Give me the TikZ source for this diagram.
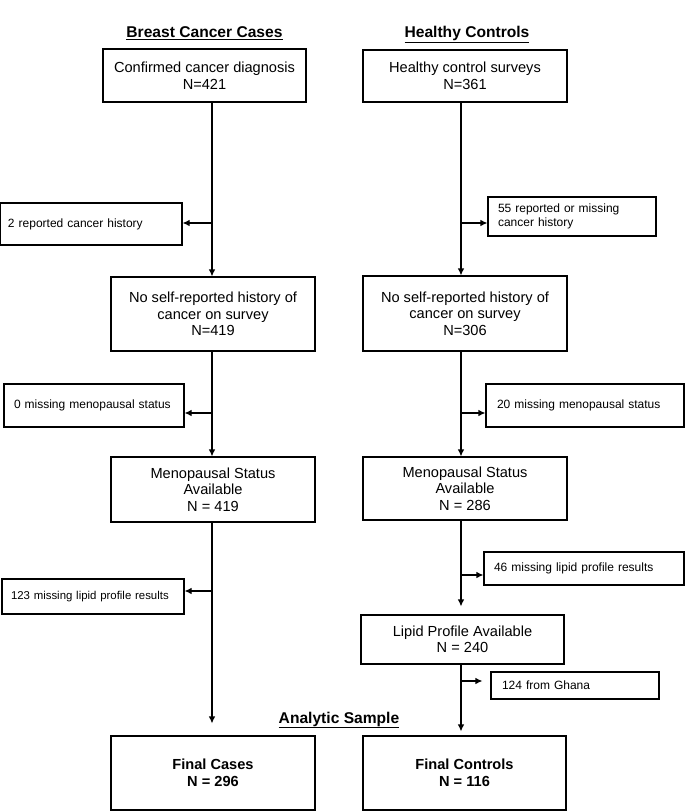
\documentclass[tikz,border=0pt]{standalone}
\usepackage{fontspec}
\setmainfont{Liberation Sans}
\usetikzlibrary{arrows.meta}
\begin{document}
\begin{tikzpicture}[x=1pt,y=-1pt,
  box/.style={draw=black,line width=1.1pt,inner sep=0pt,align=center,
    font=\fontsize{14.6}{16.5}\selectfont},
  exbox/.style={draw=black,line width=1.1pt,inner sep=0pt,align=left,
    font=\fontsize{12}{14}\selectfont},
  title/.style={font=\fontsize{15.6}{18}\selectfont\bfseries,anchor=base},
  arr/.style={line width=1.1pt,-{Latex[length=7pt,width=6.5pt]}},
]
\useasboundingbox (0,0) rectangle (685,811);

% titles
\node[title] (tL) at (204.5,37.5) {\underline{Breast Cancer Cases}};
\node[title] (tR) at (467,37.5) {\underline{Healthy Controls}};
\node[title] (tA) at (339,723) {\underline{Analytic Sample}};

% main boxes
\node[box,minimum width=203pt,minimum height=53pt] (b1L) at (204.5,75.5) {Confirmed cancer diagnosis\\N=421};
\node[box,minimum width=204pt,minimum height=52pt] (b1R) at (465,76) {Healthy control surveys\\N=361};
\node[box,minimum width=204pt,minimum height=74pt] (b2L) at (213,314) {No self-reported history of\\cancer on survey\\N=419};
\node[box,minimum width=204pt,minimum height=75pt] (b2R) at (465,313.5) {No self-reported history of\\cancer on survey\\N=306};
\node[box,minimum width=204pt,minimum height=65pt] (b3L) at (213,489.5) {Menopausal Status\\Available\\N = 419};
\node[box,minimum width=204pt,minimum height=63pt] (b3R) at (465,488.5) {Menopausal Status\\Available\\N = 286};
\node[box,minimum width=203pt,minimum height=49pt] (lipR) at (462.5,639.5) {Lipid Profile Available\\N = 240};
\node[box,minimum width=204pt,minimum height=74pt,font=\fontsize{14.6}{17}\selectfont\bfseries] (fL) at (213,773) {Final Cases\\N = 296};
\node[box,minimum width=203pt,minimum height=74pt,font=\fontsize{14.6}{17}\selectfont\bfseries] (fR) at (464.5,773) {Final Controls\\N = 116};

% exclusion boxes
\node[exbox,minimum width=182pt,minimum height=42pt,text width=166pt,inner xsep=8pt] (e1L) at (91,224) {2 reported cancer history};
\node[exbox,minimum width=168pt,minimum height=39pt,text width=148pt,inner xsep=10pt] (e1R) at (572,216.5) {55 reported or missing\\cancer history};
\node[exbox,minimum width=180pt,minimum height=43pt,text width=160pt,inner xsep=10pt] (e2L) at (94,405.5) {0 missing menopausal status};
\node[exbox,minimum width=198pt,minimum height=43pt,text width=176pt,inner xsep=11pt] (e2R) at (585,405.5) {20 missing menopausal status};
\node[exbox,minimum width=200pt,minimum height=33pt,text width=180pt,inner xsep=10pt] (e3R) at (584,568.5) {46 missing lipid profile results};
\node[exbox,minimum width=182pt,minimum height=35pt,text width=164pt,inner xsep=9pt,font=\fontsize{11.4}{14}\selectfont] (e3L) at (93,596.5) {\mbox{123 missing lipid profile results}};
\node[exbox,minimum width=168pt,minimum height=27pt,text width=146pt,inner xsep=11pt] (e4R) at (575,685.5) {124 from Ghana};

% column coordinates
\coordinate (cL) at (212,0);
\coordinate (cR) at (461,0);

% main flow
\draw[arr] (b1L.south -| cL) -- (b2L.north -| cL);
\draw[arr] (b1R.south -| cR) -- (b2R.north -| cR);
\draw[arr] (b2L.south -| cL) -- (b3L.north -| cL);
\draw[arr] (b2R.south -| cR) -- (b3R.north -| cR);
\draw[arr,shorten >=12pt] (b3L.south -| cL) -- (fL.north -| cL);
\draw[arr,shorten >=8pt] (b3R.south -| cR) -- (lipR.north -| cR);
\draw[arr,shorten >=4pt] (lipR.south -| cR) -- (fR.north -| cR);

% branches
\coordinate (k1L) at (212,223);
\coordinate (k1R) at (461,223);
\coordinate (k2L) at (212,413);
\coordinate (k2R) at (461,413);
\coordinate (k3L) at (212,591);
\coordinate (k3R) at (461,575);
\coordinate (k4R) at (461,681);
\draw[arr] (k1L) -- (k1L -| e1L.east);
\draw[arr] (k1R) -- (k1R -| e1R.west);
\draw[arr] (k2L) -- (k2L -| e2L.east);
\draw[arr] (k2R) -- (k2R -| e2R.west);
\draw[arr] (k3L) -- (k3L -| e3L.east);
\draw[arr] (k3R) -- (k3R -| e3R.west);
\draw[arr,shorten >=8pt] (k4R) -- (k4R -| e4R.west);
\end{tikzpicture}
\end{document}
